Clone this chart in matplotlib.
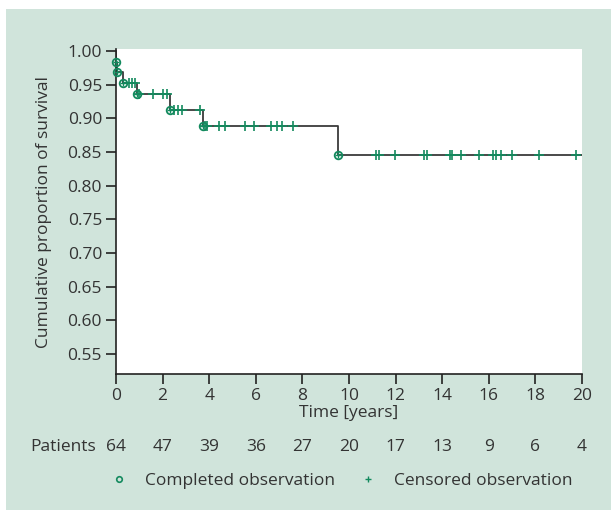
"""Kaplan-Meier style survival curve with patients-at-risk row."""

import matplotlib

matplotlib.use("Agg")
import matplotlib.pyplot as plt
from matplotlib.lines import Line2D
from matplotlib.patches import Rectangle
from matplotlib.ticker import FormatStrFormatter
from matplotlib.transforms import blended_transform_factory

# step curve (time in years, cumulative survival after the event)
event_times = [0.0, 0.03, 0.28, 0.88, 2.30, 3.72, 9.52]
survival = [0.984, 0.969, 0.953, 0.936, 0.913, 0.888, 0.845]
end_time = 20.0

# censored observations (time in years)
censored_times = [
    0.57, 0.69, 0.80, 1.00, 1.58, 2.00, 2.18,
    2.49, 2.65, 2.82, 3.61,
    3.84, 3.92, 4.40, 4.69, 5.55, 5.94, 6.65, 6.91, 7.13, 7.60,
    11.18, 11.29, 11.98, 13.22, 13.33, 14.34, 14.42, 14.81, 15.60,
    16.16, 16.33, 16.52, 16.99, 18.16, 19.74,
]

risk_times = [0, 2, 4, 6, 8, 10, 12, 14, 16, 18, 20]
patients_at_risk = [64, 47, 39, 36, 27, 20, 17, 13, 9, 6, 4]

PANEL = "#d0e4db"
GREEN = "#138a5e"
TEXT = "#333333"
LINE = "#3a3a3a"

plt.rcParams["font.family"] = ["Open Sans", "DejaVu Sans"]
plt.rcParams["font.size"] = 12.5
plt.rcParams["text.color"] = TEXT
plt.rcParams["axes.labelcolor"] = TEXT
plt.rcParams["xtick.color"] = TEXT
plt.rcParams["ytick.color"] = TEXT

fig = plt.figure(figsize=(6.11, 5.12), dpi=100, facecolor="white")
panel = Rectangle((6 / 611, 2 / 512), 1 - 6 / 611, 501 / 512,
                  transform=fig.transFigure, facecolor=PANEL, edgecolor="none",
                  zorder=-10)
fig.patches.append(panel)
ax = fig.add_axes([116 / 611, 1 - 374 / 512, 466 / 611, 325 / 512])
ax.set_zorder(1)
ax.set_facecolor("white")


def survival_at(t):
    s = 1.0
    for te, sv in zip(event_times, survival):
        if te <= t:
            s = sv
    return s


# step line
xs = [0.0] + event_times + [end_time]
ys = [1.0] + survival + [survival[-1]]
ax.step(xs, ys, where="post", color=LINE, lw=1.3, zorder=2)

# completed observations (events)
ax.plot(event_times, survival, "o", ms=5.5, mfc="none", mec=GREEN, mew=1.3,
        zorder=3, clip_on=False)
ax.plot(event_times, survival, "+", ms=4.5, mec=GREEN, mew=1.0, zorder=3, clip_on=False)

# censored observations
cens_y = [survival_at(t) for t in censored_times]
ax.plot(censored_times, cens_y, "+", ms=7, mec=GREEN, mew=1.2, zorder=3, clip_on=False)

ax.set_xlim(0, 20)
ax.set_ylim(0.52, 1.003)
ax.set_xticks(range(0, 21, 2))
ax.set_yticks([0.55, 0.60, 0.65, 0.70, 0.75, 0.80, 0.85, 0.90, 0.95, 1.00])
ax.yaxis.set_major_formatter(FormatStrFormatter("%.2f"))
ax.spines["top"].set_visible(False)
ax.spines["right"].set_visible(False)
for side in ("left", "bottom"):
    ax.spines[side].set_linewidth(1.2)
    ax.spines[side].set_color("#222222")
ax.tick_params(direction="out", length=7, width=1.2, color="#222222", pad=3)
ax.set_xlabel("Time [years]", labelpad=1)
ax.set_ylabel("Cumulative proportion of survival", labelpad=11)

# patients at risk row
trans = blended_transform_factory(ax.transData, fig.transFigure)
for t, n in zip(risk_times, patients_at_risk):
    ax.text(t, 1 - 447 / 512, str(n), transform=trans, ha="center", va="center",
            clip_on=False)
fig.text(96 / 611, 1 - 447 / 512, "Patients", ha="right", va="center")

# legend
handles = [
    Line2D([], [], ls="none", marker="o", ms=4, mfc="none", mec=GREEN, mew=1.2,
           label="Completed observation"),
    Line2D([], [], ls="none", marker="+", ms=5, mec=GREEN, mew=1.0,
           label="Censored observation"),
]
fig.legend(handles=handles, loc="center", bbox_to_anchor=(341 / 611, 1 - 481 / 512),
           ncol=2, frameon=False, handlelength=1.0, handletextpad=1.0,
           columnspacing=1.4)

fig.savefig("out.png", dpi=100, facecolor="white")
